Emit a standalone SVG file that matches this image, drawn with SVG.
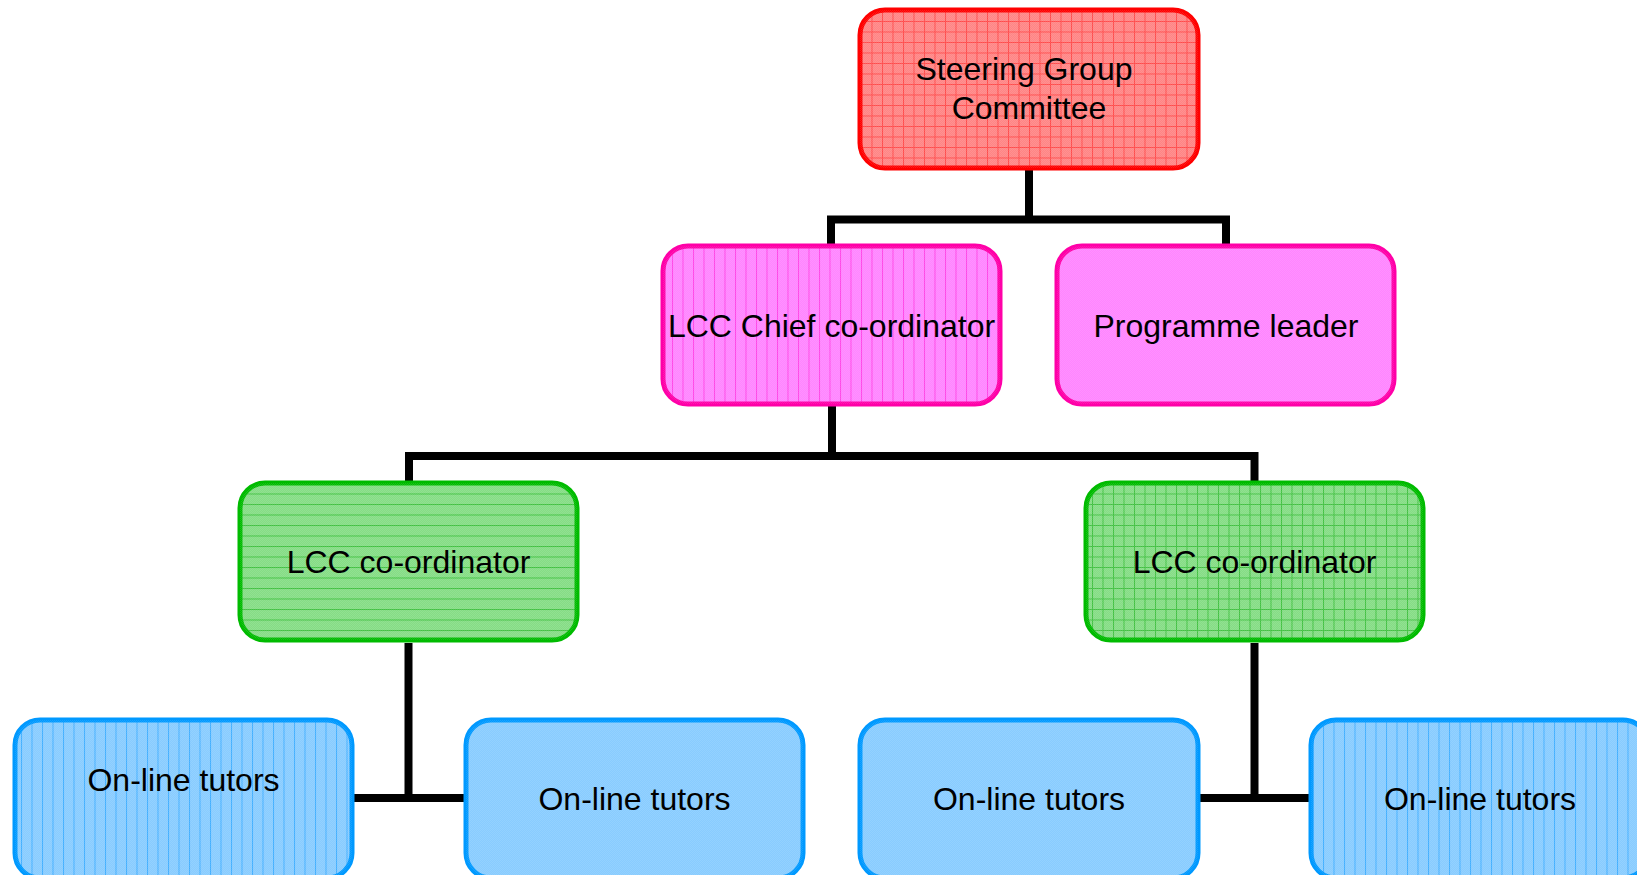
<svg xmlns="http://www.w3.org/2000/svg" width="1637" height="875" viewBox="0 0 1637 875">
<style>
.box{stroke-width:5}
.red{stroke:#FF0000}
.pink{stroke:#FF00A8}
.green{stroke:#00BB00}
.blue{stroke:#0099FF}
.lbl{font-family:"Liberation Sans",Arial,sans-serif;font-size:32px;fill:#000;text-anchor:middle}
.conn{fill:none;stroke:#000;stroke-width:8;stroke-linecap:butt;stroke-linejoin:miter}
</style>
<defs>
<pattern id="chk" width="2" height="2" patternUnits="userSpaceOnUse"><rect x="0" y="0" width="1" height="1" fill="#fff" fill-opacity="0.1"/><rect x="1" y="1" width="1" height="1" fill="#fff" fill-opacity="0.1"/></pattern>
<pattern id="pRed" width="10.5" height="10.5" patternUnits="userSpaceOnUse"><rect width="10.5" height="10.5" fill="#FF8585"/><path d="M0 0.5H10.5M0.5 0V10.5" stroke="#FF4A4A" stroke-width="1"/></pattern>
<pattern id="pPinkV" width="10.5" height="10" patternUnits="userSpaceOnUse"><rect width="10.5" height="10" fill="#FF85FF"/><path d="M0.5 0V10" stroke="#FF44E6" stroke-width="1"/></pattern>
<pattern id="pGreenH" width="10" height="10.5" patternUnits="userSpaceOnUse"><rect width="10" height="10.5" fill="#85DD85"/><path d="M0 0.5H10" stroke="#40C040" stroke-width="1"/></pattern>
<pattern id="pGreenG" width="10.5" height="10.5" patternUnits="userSpaceOnUse"><rect width="10.5" height="10.5" fill="#85DD85"/><path d="M0 0.5H10.5M0.5 0V10.5" stroke="#40C040" stroke-width="1"/></pattern>
<pattern id="pBlueV" width="10.5" height="10" patternUnits="userSpaceOnUse"><rect width="10.5" height="10" fill="#88CCFF"/><path d="M0.5 0V10" stroke="#40AEFF" stroke-width="1"/></pattern>
</defs>
<rect width="1637" height="875" fill="#fff"/>
<g id="connectors">
<path class="conn" d="M1029 168V219.5M831 246V219.5H1226V246"/>
<path class="conn" d="M832 405V456M409 483V456H1254.5V483"/>
<path class="conn" d="M408.5 643V798M354 798H465"/>
<path class="conn" d="M1254.5 643V798M1200 798H1310"/>
</g>
<g id="steering">
<rect class="box red" x="860" y="10" width="338" height="158" rx="25" fill="url(#pRed)"/>
<rect x="860" y="10" width="338" height="158" rx="25" fill="url(#chk)"/>
<text class="lbl" x="1024" y="80">Steering Group</text>
<text class="lbl" x="1029" y="119">Committee</text>
</g>
<g id="chief">
<rect class="box pink" x="663" y="246" width="337" height="158" rx="25" fill="url(#pPinkV)"/>
<rect x="663" y="246" width="337" height="158" rx="25" fill="url(#chk)"/>
<text class="lbl" x="831.5" y="337">LCC Chief co-ordinator</text>
</g>
<g id="programme">
<rect class="box pink" x="1057" y="246" width="337" height="158" rx="25" fill="#FF85FF"/>
<rect x="1057" y="246" width="337" height="158" rx="25" fill="url(#chk)"/>
<text class="lbl" x="1226" y="337">Programme leader</text>
</g>
<g id="coord-left">
<rect class="box green" x="240" y="483" width="337" height="157" rx="25" fill="url(#pGreenH)"/>
<rect x="240" y="483" width="337" height="157" rx="25" fill="url(#chk)"/>
<text class="lbl" x="408.5" y="573">LCC co-ordinator</text>
</g>
<g id="coord-right">
<rect class="box green" x="1086" y="483" width="337" height="157" rx="25" fill="url(#pGreenG)"/>
<rect x="1086" y="483" width="337" height="157" rx="25" fill="url(#chk)"/>
<text class="lbl" x="1254.5" y="573">LCC co-ordinator</text>
</g>
<g id="tutors1">
<rect class="box blue" x="15" y="720" width="337" height="158" rx="25" fill="url(#pBlueV)"/>
<rect x="15" y="720" width="337" height="158" rx="25" fill="url(#chk)"/>
<text class="lbl" x="183.5" y="791">On-line tutors</text>
</g>
<g id="tutors2">
<rect class="box blue" x="466" y="720" width="337" height="158" rx="25" fill="#88CCFF"/>
<rect x="466" y="720" width="337" height="158" rx="25" fill="url(#chk)"/>
<text class="lbl" x="634.5" y="810">On-line tutors</text>
</g>
<g id="tutors3">
<rect class="box blue" x="860" y="720" width="338" height="158" rx="25" fill="#88CCFF"/>
<rect x="860" y="720" width="338" height="158" rx="25" fill="url(#chk)"/>
<text class="lbl" x="1029" y="810">On-line tutors</text>
</g>
<g id="tutors4">
<rect class="box blue" x="1311" y="720" width="337" height="158" rx="25" fill="url(#pBlueV)"/>
<rect x="1311" y="720" width="337" height="158" rx="25" fill="url(#chk)"/>
<text class="lbl" x="1480" y="810">On-line tutors</text>
</g>
</svg>
